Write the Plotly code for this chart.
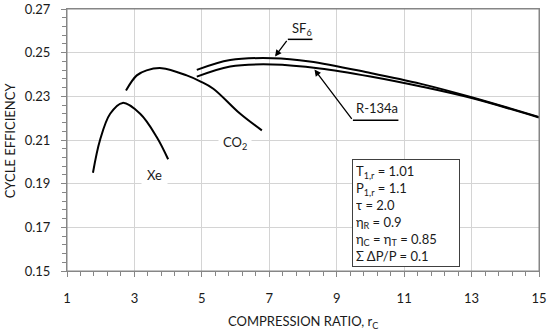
import plotly.graph_objects as go

# ---- data ----
xe_x = [1.77, 1.98, 2.28, 2.65, 3.17, 3.66, 4.0]
xe_y = [0.195, 0.210, 0.222, 0.227, 0.222, 0.2114, 0.2012]

co2_x = [2.75, 3.07, 3.36, 3.81, 4.55, 4.95, 5.34, 6.13, 6.78]
co2_y = [0.2327, 0.2396, 0.2419, 0.2429, 0.2396, 0.2369, 0.2335, 0.2221, 0.2144]

sf6_x = [4.85, 5.84, 7.1, 8.2, 10.0, 11.5, 13.0, 15.0]
sf6_y = [0.2421, 0.2466, 0.2475, 0.2460, 0.2407, 0.2357, 0.2296, 0.2205]

r134_x = [4.85, 5.84, 7.1, 8.5, 10.0, 11.5, 13.0, 15.0]
r134_y = [0.2390, 0.2437, 0.2446, 0.2428, 0.2391, 0.2345, 0.2292, 0.2203]

x_ticks = [1, 3, 5, 7, 9, 11, 13, 15]
y_ticks = [0.15, 0.17, 0.19, 0.21, 0.23, 0.25, 0.27]

box_lines = [
    "T<sub>1,r</sub> = 1.01",
    "P<sub>1,r</sub> = 1.1",
    "τ = 2.0",
    "η<sub>R</sub> = 0.9",
    "η<sub>C</sub> = η<sub>T</sub> = 0.85",
    "Σ ΔP/P = 0.1",
]

FONT = "Lato"
TXT = "#1a1a1a"
AX = "#868686"
GRID = "#d4d4d4"

fig = go.Figure()
for xs, ys in [(xe_x, xe_y), (co2_x, co2_y), (sf6_x, sf6_y), (r134_x, r134_y)]:
    fig.add_trace(go.Scatter(x=xs, y=ys, mode="lines",
                             line=dict(color="black", width=2, shape="spline", smoothing=1.0),
                             showlegend=False, hoverinfo="skip"))

annos = []
# curve labels
annos.append(dict(x=3.61, y=0.1938, text="Xe", showarrow=False, bgcolor="white",
                  borderpad=5, font=dict(size=13, color=TXT, family=FONT)))
annos.append(dict(x=5.99, y=0.2087, text="CO<sub>2</sub>", showarrow=False, bgcolor="white",
                  borderpad=4, font=dict(size=13, color=TXT, family=FONT)))
annos.append(dict(x=7.96, y=0.2608, text="SF<sub>6</sub>", showarrow=False,
                  font=dict(size=13, color=TXT, family=FONT)))
annos.append(dict(x=10.19, y=0.2248, text="R-134a", showarrow=False,
                  font=dict(size=13, color=TXT, family=FONT)))
# arrows
annos.append(dict(x=7.17, y=0.2483, ax=7.55, ay=0.2561, axref="x", ayref="y",
                  xref="x", yref="y", text="", showarrow=True, arrowhead=2,
                  arrowsize=1, arrowwidth=1.3, arrowcolor="black"))
annos.append(dict(x=8.34, y=0.2423, ax=9.48, ay=0.2190, axref="x", ayref="y",
                  xref="x", yref="y", text="", showarrow=True, arrowhead=2,
                  arrowsize=1, arrowwidth=1.3, arrowcolor="black"))
# info box
annos.append(dict(x=9.45, y=0.2012, xanchor="left", yanchor="top", xref="x", yref="y",
                  text="<br>".join(box_lines), align="left", showarrow=False,
                  bgcolor="white", bordercolor="#404040", borderwidth=1, borderpad=3,
                  width=100, height=100, valign="top",
                  font=dict(size=13, color=TXT, family=FONT)))
# axis titles
annos.append(dict(x=0.5, y=-0.195, xref="paper", yref="paper", yanchor="middle",
                  text="COMPRESSION RATIO, r<sub>C</sub>", showarrow=False,
                  font=dict(size=13, color=TXT, family=FONT)))
annos.append(dict(x=-0.12, y=0.5, xref="paper", yref="paper", xanchor="center",
                  text="CYCLE EFFICIENCY", textangle=-90, showarrow=False,
                  font=dict(size=13, color=TXT, family=FONT)))

shapes = [
    dict(type="line", x0=7.55, y0=0.2561, x1=8.28, y1=0.2561, xref="x", yref="y",
         line=dict(color="black", width=1.5)),
    dict(type="line", x0=9.48, y0=0.2190, x1=10.83, y1=0.2190, xref="x", yref="y",
         line=dict(color="black", width=1.5)),
    # plot-area frame (top/right border as in the reference)
    dict(type="rect", x0=0, y0=0, x1=1, y1=1, xref="paper", yref="paper",
         line=dict(color=AX, width=1), layer="above"),
]

fig.update_layout(
    width=550, height=334,
    margin=dict(l=67, r=11, t=9, b=63, autoexpand=False),
    paper_bgcolor="white", plot_bgcolor="white",
    font=dict(family=FONT, size=13, color=TXT),
    annotations=annos, shapes=shapes,
    xaxis=dict(range=[1, 15], tickvals=x_ticks, ticktext=[str(v) for v in x_ticks],
               automargin=False, ticklabeloverflow="allow",
               showgrid=True, gridcolor=GRID, gridwidth=1,
               showline=True, linecolor=AX, linewidth=1, mirror=True,
               ticks="outside", ticklen=5, tickcolor=AX, ticklabelstandoff=10,
               minor=dict(ticks="outside", ticklen=4, tickcolor=AX, dtick=0.4, tick0=1, showgrid=False),
               zeroline=False, tickfont=dict(size=13, color=TXT, family=FONT)),
    yaxis=dict(range=[0.15, 0.27], tickvals=y_ticks, ticktext=[f"{v:.2f}" for v in y_ticks],
               automargin=False, ticklabeloverflow="allow",
               showgrid=True, gridcolor=GRID, gridwidth=1,
               showline=True, linecolor=AX, linewidth=1, mirror=True,
               ticks="outside", ticklen=5, tickcolor=AX, ticklabelstandoff=8,
               minor=dict(ticks="outside", ticklen=4, tickcolor=AX, dtick=0.004, tick0=0.15, showgrid=False),
               zeroline=False, tickfont=dict(size=13, color=TXT, family=FONT)),
)

fig.write_html("out.html", config={"displayModeBar": False},
               post_script="document.body.style.margin='0';document.body.style.padding='0';")
